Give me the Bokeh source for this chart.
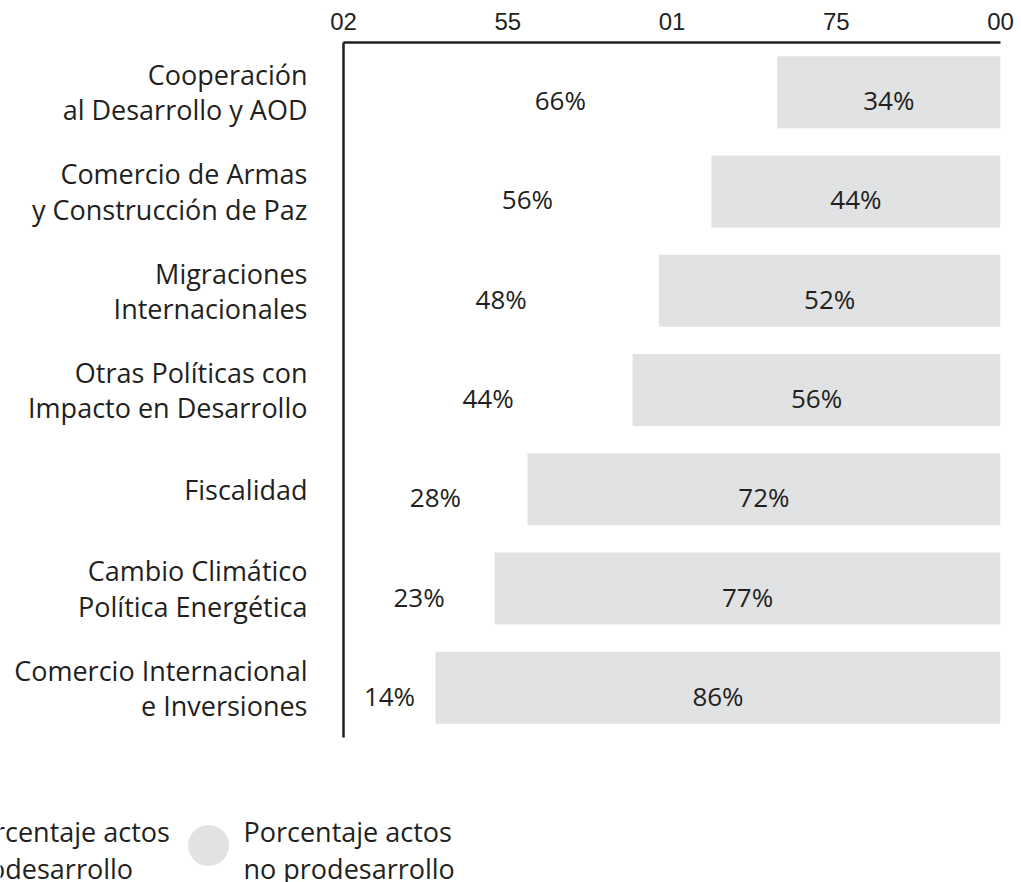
from bokeh.plotting import figure
from bokeh.models import FactorRange, Range1d, FixedTicker, ColumnDataSource
from bokeh.core.properties import value
from bokeh.embed import file_html
from bokeh.resources import INLINE

# Share of acts per policy area (percent)
categories = [
    "Cooperación\nal Desarrollo y AOD",
    "Comercio de Armas\ny Construcción de Paz",
    "Migraciones\nInternacionales",
    "Otras Políticas con\nImpacto en Desarrollo",
    "Fiscalidad",
    "Cambio Climático\nPolítica Energética",
    "Comercio Internacional\ne Inversiones",
]
pro_desarrollo = [66, 56, 48, 44, 28, 23, 14]
no_pro_desarrollo = [34, 44, 52, 56, 72, 77, 86]

series_names = ["Porcentaje actos\nprodesarrollo", "Porcentaje actos\nno prodesarrollo"]
tick_values = [0, 25, 50, 75, 100]
tick_labels = ["02", "55", "01", "75", "00"]

TEXT = "#231f20"
GRAY = "#e1e2e4"
FONT = "Open Sans"

src = ColumnDataSource(dict(
    cat=categories,
    pro=pro_desarrollo,
    nopro=no_pro_desarrollo,
    total=[a + b for a, b in zip(pro_desarrollo, no_pro_desarrollo)],
    pro_mid=[a / 2 for a in pro_desarrollo],
    nopro_mid=[a + b / 2 for a, b in zip(pro_desarrollo, no_pro_desarrollo)],
    pro_lbl=[f"{a}%" for a in pro_desarrollo],
    nopro_lbl=[f"{b}%" for b in no_pro_desarrollo],
))

p = figure(
    width=1021, height=790,
    y_range=FactorRange(factors=list(reversed(categories)), range_padding=0),
    x_range=Range1d(0, 100),
    x_axis_location="above",
    output_backend="svg", toolbar_location=None,
    min_border_left=343, min_border_right=21, min_border_top=42, min_border_bottom=53,
)
p.outline_line_color = None
p.grid.visible = False
p.background_fill_color = "white"

p.hbar(y="cat", left=0, right="pro", height=0.725, source=src,
       fill_color="white", line_color=None)
p.hbar(y="cat", left="pro", right="total", height=0.725, source=src,
       fill_color=GRAY, line_color=None)

for xcol, lcol in (("pro_mid", "pro_lbl"), ("nopro_mid", "nopro_lbl")):
    p.text(x=xcol, y="cat", text=lcol, source=src, text_align="center",
           text_baseline="middle", y_offset=8, text_color=TEXT,
           text_font=value(FONT), text_font_size="26px")

xa = p.xaxis[0]
xa.ticker = FixedTicker(ticks=tick_values)
xa.major_label_overrides = {t: l for t, l in zip(tick_values, tick_labels)}
xa.major_tick_line_color = None
xa.minor_tick_line_color = None
xa.axis_line_width = 2.5
xa.axis_line_color = TEXT
xa.major_label_text_font = "Liberation Sans Narrow, Liberation Sans"
xa.major_label_text_font_size = "24px"
xa.major_label_text_color = TEXT
xa.major_label_standoff = 7

ya = p.yaxis[0]
ya.major_tick_line_color = None
ya.minor_tick_line_color = None
ya.axis_line_width = 2.5
ya.axis_line_color = TEXT
ya.major_label_text_font = FONT
ya.major_label_text_font_size = "27px"
ya.major_label_text_color = TEXT
ya.major_label_text_line_height = 0.95
ya.major_label_standoff = 30

# Legend strip below the chart, laid out in pixel units
leg = figure(
    width=1021, height=92,
    x_range=Range1d(0, 1021), y_range=Range1d(92, 0),
    output_backend="svg", toolbar_location=None,
    min_border=0,
)
leg.outline_line_color = None
leg.grid.visible = False
leg.axis.visible = False
leg_src = ColumnDataSource(dict(
    cx=[-74, 208], cy=[55, 55], ty=[59, 59], color=["white", GRAY],
    tx=[-39, 243], label=series_names,
))
leg.scatter(x="cx", y="cy", size=41, fill_color="color", line_color=None, source=leg_src)
leg.text(x="tx", y="ty", text="label", source=leg_src, text_align="left",
         text_baseline="middle", text_color=TEXT, text_font=value(FONT),
         text_font_size="27px", text_line_height=1.0)

open("out.html", "w").write(file_html([p, leg], INLINE))
